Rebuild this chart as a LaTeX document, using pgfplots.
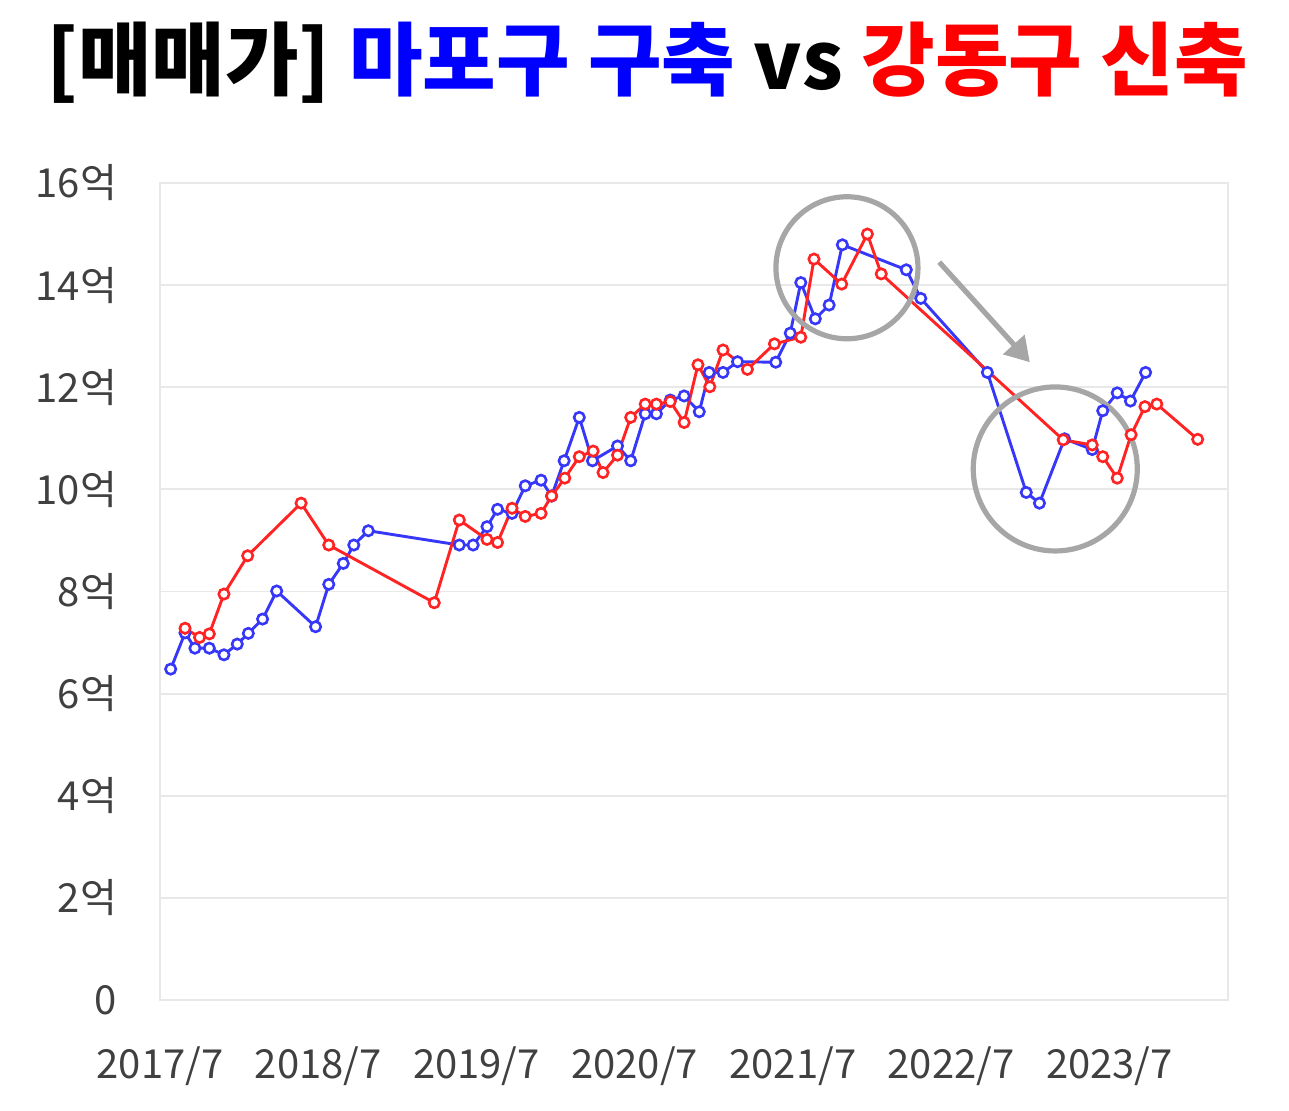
\documentclass[border=0pt]{standalone}
\usepackage{fontspec}
\setmainfont{Noto Sans CJK KR}
\usepackage{pgfplots}
\pgfplotsset{compat=1.18}
\usetikzlibrary{arrows.meta}
\definecolor{bl}{RGB}{55,55,250}
\definecolor{rd}{RGB}{255,35,35}
\definecolor{ann}{RGB}{166,166,166}
\definecolor{gridc}{RGB}{232,232,232}
\definecolor{tblue}{RGB}{0,0,255}
\definecolor{tred}{RGB}{255,0,0}
\begin{document}
\begin{tikzpicture}
\useasboundingbox (-80pt,-55pt) rectangle (564.5pt,500pt);
\fill[white] (-80pt,-55pt) rectangle (564.5pt,500pt);
\begin{axis}[at={(0,0)}, anchor=south west, scale only axis,
  width=534pt, height=408.5pt,
  xmin=0, xmax=81, ymin=0, ymax=16,
  xtick={0,12,24,36,48,60,72},
  xticklabels={2017/7,2018/7,2019/7,2020/7,2021/7,2022/7,2023/7},
  ytick={0,2,4,6,8,10,12,14,16},
  yticklabels={0,2억,4억,6억,8억,10억,12억,14억,16억},
  tick style={draw=none},
  ymajorgrids, grid style={gridc, line width=0.9pt},
  axis line style={gridc, line width=0.9pt},
  ticklabel style={font=\fontsize{20}{24}\selectfont, text=black!75},
  yticklabel style={xshift=-18pt},
  xticklabel style={yshift=-20pt},
  clip=false]
\addplot[bl, line width=1.45pt, mark=*, mark size=2.6pt, mark options={fill=white, draw=bl, line width=1.3pt}] coordinates {
(0.81,6.48) (1.9,7.19) (2.65,6.89) (3.74,6.89) (4.85,6.76) (5.86,6.97) (6.7,7.18) (7.78,7.46) (8.85,8.01) (11.8,7.31) (12.8,8.14) (13.9,8.55) (14.7,8.91) (15.8,9.19) (22.7,8.91) (23.75,8.91) (24.8,9.27) (25.6,9.61) (26.7,9.53) (27.7,10.07) (28.9,10.18) (29.7,9.87) (30.65,10.56) (31.8,11.41) (32.8,10.56) (34.7,10.85) (35.7,10.56) (36.8,11.48) (37.65,11.48) (38.7,11.75) (39.75,11.83) (40.9,11.52) (41.65,12.29) (42.7,12.29) (43.8,12.50) (46.7,12.49) (47.8,13.06) (48.6,14.05) (49.7,13.34) (50.75,13.61) (51.75,14.79) (56.6,14.30) (57.7,13.74) (62.75,12.29) (65.7,9.94) (66.7,9.73) (68.6,10.99) (70.7,10.78) (71.5,11.54) (72.6,11.89) (73.6,11.73) (74.75,12.29)
};
\addplot[rd, line width=1.45pt, mark=*, mark size=2.6pt, mark options={fill=white, draw=rd, line width=1.3pt}] coordinates {
(1.9,7.28) (3.0,7.10) (3.74,7.17) (4.85,7.95) (6.65,8.70) (10.7,9.73) (12.8,8.91) (20.8,7.78) (22.7,9.40) (24.8,9.02) (25.6,8.96) (26.7,9.63) (27.7,9.47) (28.9,9.53) (29.7,9.87) (30.7,10.22) (31.8,10.64) (32.85,10.75) (33.6,10.33) (34.7,10.67) (35.7,11.41) (36.8,11.67) (37.65,11.67) (38.7,11.72) (39.75,11.31) (40.8,12.44) (41.7,12.01) (42.7,12.73) (44.55,12.35) (46.6,12.85) (48.6,12.98) (49.6,14.51) (51.7,14.02) (53.65,15.0) (54.7,14.22) (68.5,10.97) (70.7,10.87) (71.5,10.64) (72.6,10.22) (73.65,11.07) (74.7,11.62) (75.6,11.67) (78.7,10.98)
};
\draw[ann, line width=2.6pt] (axis cs:52.1,14.34) circle[radius=35.5pt];
\draw[ann, line width=2.6pt] (axis cs:67.9,10.40) circle[radius=41pt];
\draw[ann, line width=2.6pt, -{Triangle[length=12pt,width=14pt]}] (axis cs:59.1,14.45) -- (axis cs:65.97,12.49);
\end{axis}
\node[font=\fontsize{40}{48}\selectfont\bfseries, inner sep=0pt] at (243.5pt,468.5pt)
  {[매매가] \textcolor{tblue}{마포구 구축} vs \textcolor{tred}{강동구 신축}};
\end{tikzpicture}
\end{document}
